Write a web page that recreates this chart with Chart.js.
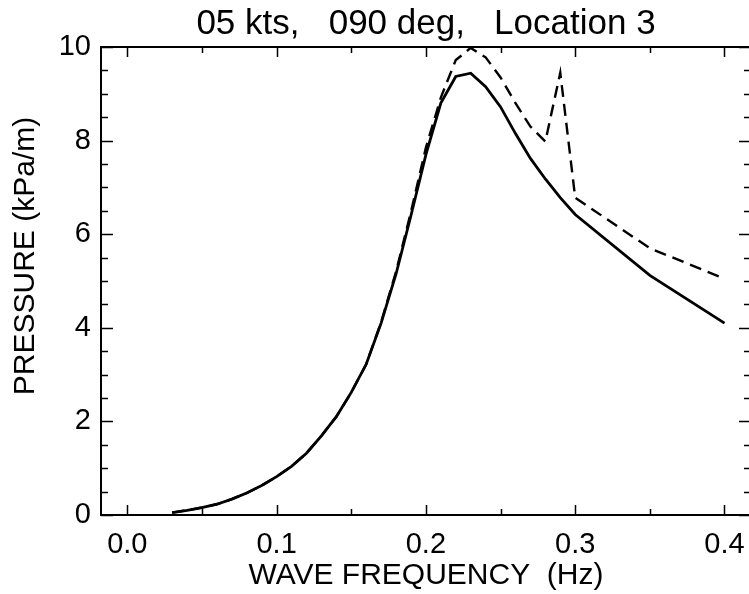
<!DOCTYPE html>
<html><head><meta charset="utf-8">
<script src="https://cdn.jsdelivr.net/npm/chart.js@4"></script>
<style>html,body{margin:0;padding:0;overflow:hidden;background:#fff}
#wrap{position:relative;width:760px;height:594px}</style>
</head><body><div id="wrap"><canvas id="c"></canvas></div>
<script>
const chartTitle = '05 kts,   090 deg,   Location 3';
const xAxisTitle = 'WAVE FREQUENCY  (Hz)';
const yAxisTitle = '      PRESSURE (kPa/m)';

const frequency = [0.03,0.04,0.05,0.06,0.07,0.08,0.09,0.10,0.11,0.12,0.13,0.14,0.15,0.16,0.17,0.18,0.19,0.20,0.21,0.22,0.23,0.24,0.25,0.26,0.27,0.28,0.29,0.30,0.35,0.40];
const pressureSolid = [0.05,0.10,0.16,0.23,0.34,0.47,0.63,0.82,1.04,1.32,1.69,2.10,2.62,3.22,4.10,5.15,6.40,7.70,8.80,9.37,9.44,9.15,8.72,8.15,7.62,7.18,6.78,6.42,5.12,4.10];
const pressureDashed = [0.05,0.10,0.16,0.23,0.34,0.47,0.63,0.82,1.04,1.32,1.69,2.10,2.62,3.22,4.12,5.20,6.48,7.85,8.92,9.72,9.98,9.78,9.35,8.80,8.30,7.98,9.45,6.78,5.70,5.05];

const xTickValues = [0.0,0.1,0.2,0.3,0.4];
const xTickLabels = ['0.0','0.1','0.2','0.3','0.4'];
const yTickValues = [0,2,4,6,8,10];
const yTickLabels = ['0','2','4','6','8','10'];

const FONT = "'Liberation Sans', Arial, Helvetica, sans-serif";

const frameTicks = {
  id: 'frameTicks',
  afterDatasetsDraw(chart) {
    const {ctx, chartArea: a, scales: {x, y}} = chart;
    ctx.save();
    ctx.strokeStyle = '#000';
    ctx.lineWidth = 2;
    ctx.strokeRect(a.left, a.top, a.right - a.left, a.bottom - a.top);
    ctx.lineWidth = 1.5;
    ctx.beginPath();
    for (let v = 0; v <= 0.4001; v += 0.05) {
      const px = Math.round(x.getPixelForValue(v)) + 0.5;
      const major = Math.abs(v / 0.1 - Math.round(v / 0.1)) < 1e-6;
      const len = major ? 10 : 6;
      ctx.moveTo(px, a.bottom); ctx.lineTo(px, a.bottom - len);
      ctx.moveTo(px, a.top); ctx.lineTo(px, a.top + len);
    }
    for (let v = 0; v <= 10.001; v += 0.5) {
      const py = Math.round(y.getPixelForValue(v)) + 0.5;
      const major = Math.abs(v / 2 - Math.round(v / 2)) < 1e-6;
      const len = major ? 12 : 7;
      ctx.moveTo(a.left, py); ctx.lineTo(a.left + len, py);
      ctx.moveTo(a.right, py); ctx.lineTo(a.right - len, py);
    }
    ctx.stroke();
    ctx.restore();
  }
};

new Chart(document.getElementById('c'), {
  type: 'line',
  data: {
    datasets: [
      {
        data: frequency.map((f, i) => ({x: f, y: pressureSolid[i]})),
        borderColor: '#000', borderWidth: 2.8, pointRadius: 0, tension: 0, fill: false
      },
      {
        data: frequency.map((f, i) => ({x: f, y: pressureDashed[i]})),
        borderColor: '#000', borderWidth: 2.4, borderDash: [12, 7], pointRadius: 0, tension: 0, fill: false
      }
    ]
  },
  options: {
    responsive: true,
    maintainAspectRatio: false,
    animation: false,
    devicePixelRatio: 1,
    layout: {padding: {left: 0, right: 9, top: 0, bottom: 0}},
    plugins: {
      legend: {display: false},
      tooltip: {enabled: false},
      title: {
        display: true, text: chartTitle, fullSize: false, color: '#000',
        font: {family: FONT, size: 35, weight: 'normal', lineHeight: 1.2},
        padding: {top: 3, bottom: 2}
      }
    },
    scales: {
      x: {
        type: 'linear', min: -0.01762, max: 0.41775,
        afterBuildTicks(scale) { scale.ticks = xTickValues.map(v => ({value: v})); },
        afterFit(scale) { scale.height = 79; },
        ticks: {
          autoSkip: false, maxRotation: 0, padding: 13, color: '#000',
          font: {family: FONT, size: 29},
          callback: (v, i) => xTickLabels[i]
        },
        grid: {display: false, drawTicks: false},
        border: {display: false},
        title: {display: true, text: xAxisTitle, color: '#000', font: {family: FONT, size: 30}, padding: {top: 0, bottom: 0}}
      },
      y: {
        type: 'linear', min: 0, max: 10,
        afterBuildTicks(scale) { scale.ticks = yTickValues.map(v => ({value: v})); },
        afterFit(scale) { scale.width = 101; },
        ticks: {
          autoSkip: false, padding: 10, color: '#000',
          font: {family: FONT, size: 29},
          callback: (v, i) => yTickLabels[i]
        },
        grid: {display: false, drawTicks: false},
        border: {display: false},
        title: {display: true, text: yAxisTitle, color: '#000', font: {family: FONT, size: 30}, padding: {top: 8, bottom: 0}}
      }
    }
  },
  plugins: [frameTicks]
});
</script>
</body></html>
